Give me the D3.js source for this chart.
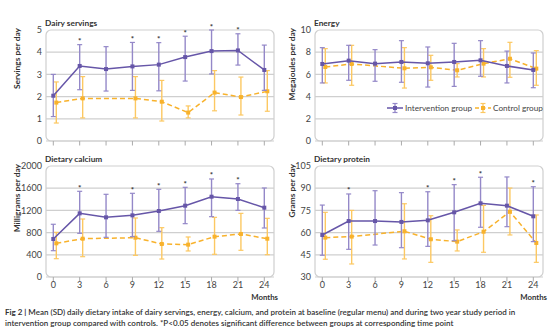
<!DOCTYPE html>
<html><head><meta charset="utf-8">
<script src="https://cdn.jsdelivr.net/npm/d3@7"></script>
<style>body{margin:0;background:#fff}svg{display:block;font-family:Lato,"Open Sans",sans-serif}</style>
</head><body><svg id="c" width="554" height="330"></svg>
<script>
const months = [0,3,6,9,12,15,18,21,24];

const dairyIntMean = [2.04,3.38,3.24,3.36,3.44,3.78,4.05,4.08,3.2];
const dairyIntHi   = [3.0,4.34,4.25,4.44,4.43,4.72,5.0,4.83,4.32];
const dairyIntLo   = [1.1,2.31,2.25,2.28,2.26,2.7,3.02,3.42,2.28];
const dairyCtlMean = [1.73,1.92,null,1.92,1.77,1.28,2.18,1.98,2.24];
const dairyCtlHi   = [2.66,2.9,null,2.9,2.73,1.58,3.17,2.88,3.17];
const dairyCtlLo   = [0.81,1.04,null,1.04,0.9,1.04,1.36,1.17,1.34];
const dairySig = [3,9,12,15,18,21];
const dairyTicks = [0,1,2,3,4,5];

const energyIntMean = [6.94,7.24,6.97,7.12,7.0,7.12,7.27,6.76,6.4];
const energyIntHi   = [8.41,8.62,8.23,9.04,8.47,8.8,9.04,8.1,7.93];
const energyIntLo   = [5.23,5.47,5.38,5.29,4.86,4.92,5.83,5.23,4.8];
const energyCtlMean = [6.67,6.94,null,6.55,6.64,6.37,6.97,7.41,6.52];
const energyCtlHi   = [8.32,8.62,null,8.41,7.72,6.97,8.32,8.89,8.14];
const energyCtlLo   = [5.23,5.02,null,4.77,5.47,5.77,5.77,5.74,5.02];
const energySig = [];
const energyTicks = [0,2,4,6,8,10];

const calciumIntMean = [685,1147,1075,1111,1189,1285,1447,1405,1249];
const calciumIntHi   = [950,1544,1490,1508,1580,1616,1766,1681,1604];
const calciumIntLo   = [474,787,715,727,823,961,1087,1201,883];
const calciumCtlMean = [607,690,null,708,595,583,727,775,690];
const calciumCtlHi   = [805,1045,null,1063,889,721,1075,1147,1057];
const calciumCtlLo   = [330,366,null,390,324,469,409,481,402];
const calciumSig = [3,9,12,15,18,21];
const calciumTicks = [0,400,800,1200,1600,2000];

const proteinIntMean = [58.4,67.8,67.8,67.2,68.3,73.7,79.8,78.2,71];
const proteinIntHi   = [78.6,86.1,88.3,87,87.6,92.4,97.4,97.6,91];
const proteinIntLo   = [44.7,48.7,51.6,49.8,50.7,54.5,63.6,64,53.9];
const proteinCtlMean = [56.6,57.3,null,60.9,55.5,53.9,60.6,74.1,53];
const proteinCtlHi   = [73.7,75,null,79.5,71.4,61.8,78.4,90.1,71.9];
const proteinCtlLo   = [42,38.8,null,42.2,39.9,47.6,46.7,58.4,39.9];
const proteinSig = [3,12,15,18,24];
const proteinTicks = [30,45,60,75,90,105];

const legendLabels = ["Intervention group","Control group"];
const captionBold = "Fig 2 | ";
const captionLine1 = "Mean (SD) daily dietary intake of dairy servings, energy, calcium, and protein at baseline (regular menu) and during two year study period in";
const captionLine2 = "intervention group compared with controls. *P<0.05 denotes significant difference between groups at corresponding time point";

const PURPLE = "#6656a8", PURPLE_ERR = "#9488c8";
const ORANGE = "#f8b22c", ORANGE_ERR = "#fcc862";
const svg = d3.select("#c");

function panel(o){
  const g = svg.append("g");
  const x = d3.scaleLinear().domain([0,24]).range([o.bx0+7.3, o.bx1-9.7]);
  const y = d3.scaleLinear().domain([o.ticks[0], o.ticks[o.ticks.length-1]]).range([o.by1, o.by0]);
  g.append("rect").attr("x",o.bx0).attr("y",o.by0).attr("width",o.bx1-o.bx0).attr("height",o.by1-o.by0)
    .attr("rx",5).attr("fill","none").attr("stroke","#cfcfcf").attr("stroke-width",1.2);
  g.selectAll("line.grid").data(o.ticks.slice(0,-1)).join("line")
    .attr("x1",o.bx0).attr("x2",o.bx1).attr("y1",d=>y(d)).attr("y2",d=>y(d))
    .attr("stroke","#cfcfcf").attr("stroke-width",1.2);
  g.selectAll("text.yt").data(o.ticks).join("text")
    .attr("x",o.bx0-4).attr("y",d=>y(d)).attr("dy","0.35em").attr("text-anchor","end")
    .attr("font-size",9).attr("fill","#444").text(d=>d);
  g.selectAll("line.xt").data(months).join("line")
    .attr("x1",d=>x(d)).attr("x2",d=>x(d)).attr("y1",o.by1).attr("y2",o.by1+4.5)
    .attr("stroke","#aaa").attr("stroke-width",1);
  if(o.xlabels){
    g.selectAll("text.xl").data(months).join("text")
      .attr("x",d=>x(d)).attr("y",o.by1+11).attr("text-anchor","middle")
      .attr("font-size",9).attr("fill","#444").text(d=>d);
    g.append("text").attr("x",o.bx1+4).attr("y",o.by1+23).attr("text-anchor","end")
      .attr("font-size",7.8).attr("font-weight",700).attr("fill","#333").text("Months");
  }
  g.append("text").attr("x",o.bx0-1).attr("y",o.by0-4).attr("font-size",8.3).attr("font-weight",700)
    .attr("fill","#333").text(o.title);
  g.append("text").attr("transform",`translate(${o.ylx},${o.by0-2}) rotate(-90)`)
    .attr("text-anchor","end").attr("font-size",8.4).attr("font-weight",700).attr("fill","#333").text(o.ylabel);

  function series(mean, lo, hi, dx, color, ecolor, dashed){
    const pts = months.map((m,i)=>({m, v:mean[i], lo:lo[i], hi:hi[i]})).filter(d=>d.v!=null);
    const sg = g.append("g");
    sg.selectAll("line.e").data(pts).join("line")
      .attr("x1",d=>x(d.m)+dx).attr("x2",d=>x(d.m)+dx).attr("y1",d=>y(d.lo)).attr("y2",d=>y(d.hi))
      .attr("stroke",ecolor).attr("stroke-width",1.4);
    ["lo","hi"].forEach(k=>{
      sg.selectAll("line.c"+k).data(pts).join("line")
        .attr("x1",d=>x(d.m)+dx-2.5).attr("x2",d=>x(d.m)+dx+2.5).attr("y1",d=>y(d[k])).attr("y2",d=>y(d[k]))
        .attr("stroke",ecolor).attr("stroke-width",1.2);
    });
    sg.append("path").datum(pts).attr("fill","none").attr("stroke",color).attr("stroke-width",1.5)
      .attr("stroke-dasharray",dashed?"5,3":null)
      .attr("d",d3.line().x(d=>x(d.m)+dx).y(d=>y(d.v)));
    sg.selectAll("rect.m").data(pts).join("rect")
      .attr("x",d=>x(d.m)+dx-2).attr("y",d=>y(d.v)-2).attr("width",4).attr("height",4).attr("fill",color);
  }
  series(o.cMean,o.cLo,o.cHi,3,ORANGE,ORANGE_ERR,true);
  series(o.iMean,o.iLo,o.iHi,0,PURPLE,PURPLE_ERR,false);
  g.selectAll("text.sig").data(o.sig).join("text")
    .attr("x",d=>x(d)).attr("y",d=>y(o.iHi[months.indexOf(d)])-0.5).attr("text-anchor","middle")
    .attr("font-size",8).attr("font-weight",700).attr("fill","#333").text("*");
  return {g,x,y};
}

panel({bx0:46,bx1:274,by0:30,by1:141,ticks:dairyTicks,title:"Dairy servings",ylabel:"Servings per day",ylx:20,
  iMean:dairyIntMean,iLo:dairyIntLo,iHi:dairyIntHi,cMean:dairyCtlMean,cLo:dairyCtlLo,cHi:dairyCtlHi,sig:dairySig,xlabels:false});
panel({bx0:315,bx1:543,by0:30,by1:141,ticks:energyTicks,title:"Energy",ylabel:"Megajoules per day",ylx:295,
  iMean:energyIntMean,iLo:energyIntLo,iHi:energyIntHi,cMean:energyCtlMean,cLo:energyCtlLo,cHi:energyCtlHi,sig:energySig,xlabels:false});
panel({bx0:46,bx1:274,by0:166,by1:277,ticks:calciumTicks,title:"Dietary calcium",ylabel:"Milligrams per day",ylx:20,
  iMean:calciumIntMean,iLo:calciumIntLo,iHi:calciumIntHi,cMean:calciumCtlMean,cLo:calciumCtlLo,cHi:calciumCtlHi,sig:calciumSig,xlabels:true});
panel({bx0:315,bx1:543,by0:166,by1:277,ticks:proteinTicks,title:"Dietary protein",ylabel:"Grams per day",ylx:295,
  iMean:proteinIntMean,iLo:proteinIntLo,iHi:proteinIntHi,cMean:proteinCtlMean,cLo:proteinCtlLo,cHi:proteinCtlHi,sig:proteinSig,xlabels:true});

const lg = svg.append("g");
const legItems = [
  {label:legendLabels[0], x0:387, color:PURPLE, ecolor:PURPLE_ERR, dashed:false},
  {label:legendLabels[1], x0:475, color:ORANGE, ecolor:ORANGE_ERR, dashed:true}
];
const ly = 108;
legItems.forEach(it=>{
  lg.append("line").attr("x1",it.x0).attr("x2",it.x0+16).attr("y1",ly).attr("y2",ly)
    .attr("stroke",it.color).attr("stroke-width",1.5).attr("stroke-dasharray",it.dashed?"4,2.5":null);
  const cx = it.x0+8;
  lg.append("line").attr("x1",cx).attr("x2",cx).attr("y1",ly-4.5).attr("y2",ly+4.5).attr("stroke",it.ecolor).attr("stroke-width",1.3);
  [ly-4.5,ly+4.5].forEach(yy=>lg.append("line").attr("x1",cx-2.5).attr("x2",cx+2.5).attr("y1",yy).attr("y2",yy).attr("stroke",it.ecolor).attr("stroke-width",1.2));
  lg.append("rect").attr("x",cx-2).attr("y",ly-2).attr("width",4).attr("height",4).attr("fill",it.color);
  lg.append("text").attr("x",it.x0+18).attr("y",ly).attr("dy","0.35em").attr("font-size",8.2).attr("fill","#444").text(it.label);
});

const cap = svg.append("g").attr("font-size",8).attr("fill","#333");
const t1 = cap.append("text").attr("x",5).attr("y",315);
t1.append("tspan").attr("font-weight",700).text(captionBold);
t1.append("tspan").attr("font-weight",600).text(captionLine1);
cap.append("text").attr("x",5).attr("y",325.5).attr("font-weight",600).text(captionLine2);
</script></body></html>
